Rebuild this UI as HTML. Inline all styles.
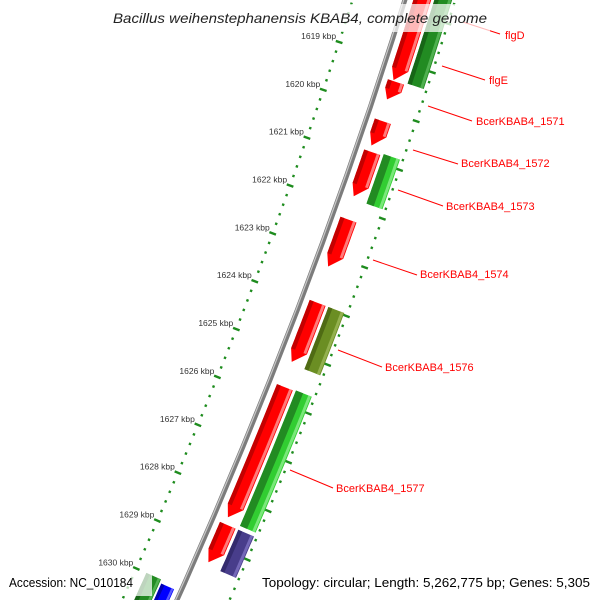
<!DOCTYPE html>
<html><head><meta charset="utf-8"><style>
html,body{margin:0;padding:0;background:#fff;width:600px;height:600px;overflow:hidden;}
svg{display:block;overflow:hidden;}
</style></head><body>
<svg id="chart" xmlns="http://www.w3.org/2000/svg" width="600" height="600" viewBox="0 0 600 600">
<rect width="600" height="600" fill="#fff"/>
<g id="marks"></g>
<g id="overlay">
<rect x="110" y="4" width="380" height="28" fill="#fff" fill-opacity="0.72"/>
<rect x="4" y="572" width="148" height="24" fill="#fff" fill-opacity="0.72"/>
<rect x="258" y="572" width="338" height="24" fill="#fff" fill-opacity="0.72"/>
<text x="113" y="23" textLength="374" lengthAdjust="spacingAndGlyphs" font-family="Liberation Sans, sans-serif" font-size="14" font-style="italic" fill="#222">Bacillus weihenstephanensis KBAB4, complete genome</text>
<text x="9" y="587" textLength="124" lengthAdjust="spacingAndGlyphs" font-family="Liberation Sans, sans-serif" font-size="13" fill="#000">Accession: NC_010184</text>
<text x="262" y="587" textLength="328" lengthAdjust="spacingAndGlyphs" font-family="Liberation Sans, sans-serif" font-size="13" fill="#000">Topology: circular; Length: 5,262,775 bp; Genes: 5,305</text>
</g>
</svg>
<script>
// ---- data ----
const tickKbp = [1617,1618,1619,1620,1621,1622,1623,1624,1625,1626,1627,1628,1629,1630,1631];
const tickLabels = ["1617 kbp","1618 kbp","1619 kbp","1620 kbp","1621 kbp","1622 kbp","1623 kbp","1624 kbp","1625 kbp","1626 kbp","1627 kbp","1628 kbp","1629 kbp","1630 kbp","1631 kbp"];
const featStart = [1617.0,1619.40,1620.21,1620.85,1622.24,1623.96,1625.70,1628.55, 1617.0,1620.81,1623.96,1625.68,1628.55, 1630.0,1630.07];
const featEnd   = [1619.38,1619.78,1620.73,1621.78,1623.23,1625.20,1628.41,1629.34, 1619.36,1621.83,1625.24,1628.47,1629.40, 1631.5,1631.5];
const featTrack = ["red","red","red","red","red","red","red","red","outer","outer","outer","outer","outer","inner2","inner1"];
const featType  = ["red","red","red","red","red","red","red","red","green","lime","olive","lime","slate","green","blue"];
const featArrow = [1,1,1,1,1,1,1,1,0,0,0,0,0,0,0];
const labelNames = ["flgD","flgE","BcerKBAB4_1571","BcerKBAB4_1572","BcerKBAB4_1573","BcerKBAB4_1574","BcerKBAB4_1576","BcerKBAB4_1577"];

// ---- styles / geometry ----
const trackD = {red:[8,25], outer:[28,45], inner1:[-21,-7], inner2:[-39,-23]};
const colors = {
  red:{main:"#ff0000",dark:"#c40000",light:"#ff7a7a",dw:0.25},
  green:{main:"#228b22",dark:"#176617",light:"#4fb04f",dw:0.25},
  lime:{main:"#32cd32",dark:"#228b22",light:"#7ae87a",dw:0.45},
  olive:{main:"#6b8e23",dark:"#4f6b14",light:"#93b04e",dw:0.25},
  slate:{main:"#483d8b",dark:"#342b6e",light:"#7468b8",dw:0.25},
  blue:{main:"#0000ff",dark:"#0000b0",light:"#5a5aff",dw:0.25}
};
const labelPos = [[463,22,500,34,505,39],[442,66,485,80,489,84],[428,106,472,121,476,125],[413,150,458,164,461,167],[398,190,443,206,446,210],[373,260,417,275,420,278],[338,350,382,367,385,371],[290,470,333,488,336,492]];

function B(s){const y=57.5+(s-1619)*48.3;const x=405-0.3125*y-0.0001125*y*y;const xp=-0.3125-0.000225*y;const L=Math.hypot(1,xp);return {x:x,y:y,nx:1/L,ny:-xp/L};}
function P(s,d){const b=B(s);return [b.x+d*b.nx,b.y+d*b.ny];}
const NS="http://www.w3.org/2000/svg";
const g=document.getElementById("marks");
function mk(tag,attrs){const e=document.createElementNS(NS,tag);for(const k in attrs)e.setAttribute(k,attrs[k]);g.appendChild(e);return e;}
function edge(s0,s1,d){const pts=[];const n=10;for(let i=0;i<=n;i++){pts.push(P(s0+(s1-s0)*i/n,d));}return pts;}
function band(s0,s1,d0,d1){const a=edge(s0,s1,d0),b=edge(s0,s1,d1).reverse();return a.concat(b).map(p=>p[0].toFixed(1)+","+p[1].toFixed(1)).join(" ");}
function line(s0,s1,d){return edge(s0,s1,d).map(p=>p[0].toFixed(1)+","+p[1].toFixed(1)).join(" ");}

// backbone
let bb=mk("polyline",{points:line(1617.2,1631.3,0),fill:"none",stroke:"#7c7c7c","stroke-width":5});


let bh=mk("polyline",{points:line(1617.2,1631.3,-1.2),fill:"none",stroke:"#c8c8c8","stroke-width":1.2});



// rulers
const rulerD=[-50,48];
for(let r=0;r<2;r++){
  for(let k=0;k<=72;k++){
    const s=1616.8+k*0.2;const isMajor=Math.abs(s-Math.round(s))<1e-6;
    const half=isMajor?3.5:1.2;
    const a=P(s,rulerD[r]-half),b=P(s,rulerD[r]+half);
    const t=mk("line",{x1:a[0],y1:a[1],x2:b[0],y2:b[1],stroke:"#1e8c1e","stroke-width":2.4});
    
    
  }
}
// tick labels
tickKbp.forEach((s,i)=>{
  const p=P(s,-50);
  const t=mk("text",{x:(p[0]-3).toFixed(1),y:(p[1]-3).toFixed(1),"text-anchor":"end","font-family":"Liberation Sans, sans-serif","font-size":"8.5",fill:"#333"});
  t.textContent=tickLabels[i];
  
  
});

// features
featStart.forEach((s0,i)=>{
  const s1=featEnd[i];const d=trackD[featTrack[i]];const c=colors[featType[i]];
  const d0=d[0],d1=d[1];
  let pts;
  if(featArrow[i]){
    const al=Math.min(0.24,(s1-s0)*0.55);const sA=s1-al;
    const a=edge(s0,sA,d0),b=edge(s0,sA,d1).reverse();
    pts=a.concat([P(s1,(d0+d1)/2-3)]).concat(b);
  } else {
    pts=edge(s0,s1,d0).concat(edge(s0,s1,d1).reverse());
  }
  const poly=mk("polygon",{points:pts.map(p=>p[0].toFixed(1)+","+p[1].toFixed(1)).join(" "),fill:c.main});
  
  
  const sEnd=featArrow[i]?s1-Math.min(0.24,(s1-s0)*0.55):s1;
  const w=d1-d0;
  const dk=mk("polygon",{points:band(s0,sEnd,d0,d0+w*c.dw),fill:c.dark});
  
  
  const lt=mk("polygon",{points:band(s0,sEnd,d1-w*0.22,d1-w*0.05),fill:c.light});
  
  
});

// gene labels with leader lines
labelNames.forEach((name,i)=>{
  const L=labelPos[i];
  const ln=mk("line",{x1:L[0],y1:L[1],x2:L[2],y2:L[3],stroke:"#ff0000","stroke-width":1});
  
  
  const t=mk("text",{x:L[4],y:L[5],"font-family":"Liberation Sans, sans-serif","font-size":"11",fill:"#ff0000"});
  t.textContent=name;
  
  
});
</script>
</body></html>
